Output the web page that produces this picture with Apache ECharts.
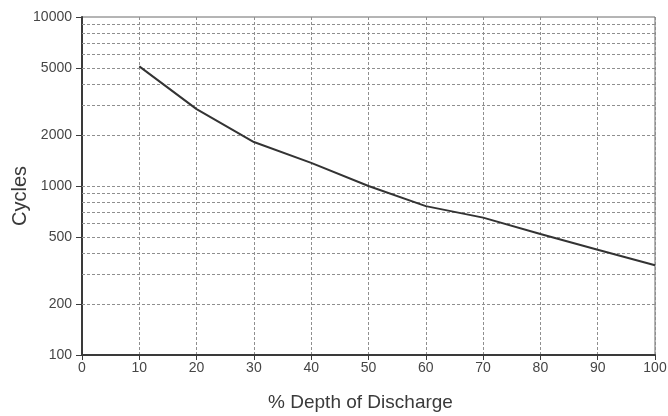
<!DOCTYPE html>
<html>
<head>
<meta charset="utf-8">
<script src="https://cdn.jsdelivr.net/npm/echarts@6/dist/echarts.min.js"></script>
<style>
  html, body { margin: 0; padding: 0; background: #fff; }
  #chart { width: 668px; height: 416px; }
</style>
</head>
<body>
<div id="chart"></div>
<script>
// Cycle life vs. depth of discharge
const depthOfDischarge = [10, 20, 30, 40, 50, 60, 70, 80, 90, 100];
const cycles = [5100, 2850, 1820, 1370, 1000, 760, 650, 520, 420, 340];

// Labelled values on the logarithmic cycles axis
const cycleTickValues = [100, 200, 500, 1000, 2000, 5000, 10000];
// Decade sub-divisions drawn as horizontal grid lines
const cycleGridValues = [200, 300, 400, 500, 600, 700, 800, 900, 1000,
  2000, 3000, 4000, 5000, 6000, 7000, 8000, 9000];

const font = 'Liberation Sans, Arial, sans-serif';
const chart = echarts.init(document.getElementById('chart'), null, { renderer: 'canvas' });

chart.setOption({
  animation: false,
  backgroundColor: '#ffffff',
  grid: {
    left: 82, right: 13, top: 17, bottom: 61,
    outerBoundsMode: 'none',
    containLabel: false,
    show: true, borderColor: '#6a6a6a', borderWidth: 1
  },
  xAxis: {
    type: 'value',
    min: 0, max: 100, interval: 10,
    name: '% Depth of Discharge',
    nameLocation: 'middle',
    nameGap: 38,
    nameMoveOverlap: false,
    nameTextStyle: { fontFamily: font, fontSize: 19, color: '#3a3a3a', padding: [0, 16, 0, 0] },
    axisLine: { lineStyle: { color: '#3a3a3a', width: 2 } },
    axisTick: { length: 5, lineStyle: { color: '#3a3a3a' } },
    axisLabel: { fontFamily: font, fontSize: 14, color: '#464646', margin: 6 },
    splitLine: { show: true, lineStyle: { color: '#8f8f8f', type: [3, 2], width: 1 } }
  },
  yAxis: {
    type: 'log',
    logBase: 10,
    min: 100, max: 10000,
    name: 'Cycles',
    nameLocation: 'middle',
    nameGap: 52,
    nameMoveOverlap: false,
    nameTextStyle: { fontFamily: font, fontSize: 20, color: '#3a3a3a', padding: [0, 20, 0, 0] },
    axisLine: { show: true, lineStyle: { color: '#3a3a3a', width: 2 } },
    axisTick: { show: true, length: 6, customValues: cycleTickValues, lineStyle: { color: '#3a3a3a' } },
    axisLabel: {
      fontFamily: font, fontSize: 14, color: '#464646', margin: 10,
      customValues: cycleTickValues,
      formatter: v => String(Math.round(v))
    },
    splitLine: { show: false }
  },
  series: [{
    type: 'line',
    data: depthOfDischarge.map((d, i) => [d, cycles[i]]),
    showSymbol: false,
    lineStyle: { color: '#333333', width: 2 },
    markLine: {
      silent: true,
      symbol: 'none',
      label: { show: false },
      lineStyle: { color: '#8f8f8f', type: [3, 2], width: 1 },
      data: cycleGridValues.map(v => ({ yAxis: v }))
    },
    z: 5
  }]
});
</script>
</body>
</html>
